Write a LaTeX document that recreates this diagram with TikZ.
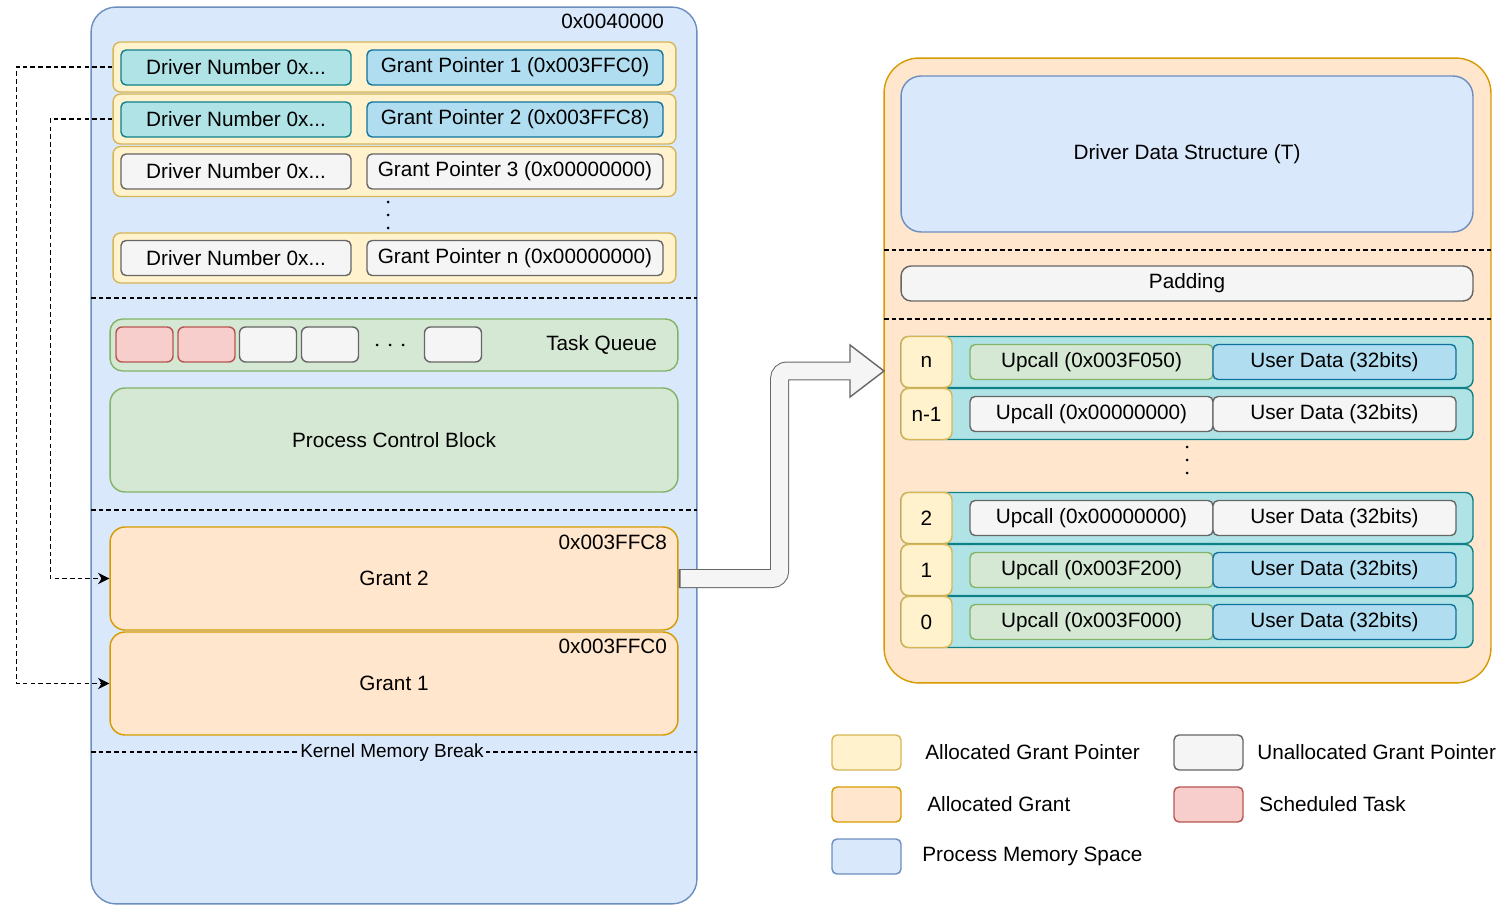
\documentclass[tikz,border=0pt]{standalone}
\usepackage{fontspec}
\setmainfont{Liberation Sans}
\usetikzlibrary{arrows.meta,positioning}

\definecolor{memfill}{HTML}{DAE8FC}
\definecolor{memline}{HTML}{6C8EBF}
\definecolor{ptrfill}{HTML}{FFF2CC}
\definecolor{ptrline}{HTML}{D6B656}
\definecolor{grfill}{HTML}{FFE6CC}
\definecolor{grline}{HTML}{D79B00}
\definecolor{tealfill}{HTML}{B0E3E6}
\definecolor{tealline}{HTML}{0E8088}
\definecolor{skyfill}{HTML}{B1DDF0}
\definecolor{skyline}{HTML}{10739E}
\definecolor{offfill}{HTML}{F5F5F5}
\definecolor{offline}{HTML}{666666}
\definecolor{pcbfill}{HTML}{D5E8D4}
\definecolor{pcbline}{HTML}{82B366}
\definecolor{taskfill}{HTML}{F8CECC}
\definecolor{taskline}{HTML}{B85450}

\begin{document}
\begin{tikzpicture}[x=0.02cm, y=-0.02cm, line width=0.8pt,
		font=\fontsize{11.8}{14}\selectfont,
		box/.style={draw, rounded corners=0.1cm, inner sep=0pt},
		mem/.style={box, fill=memfill, draw=memline},
		slot/.style={box, rounded corners=0.15cm, fill=ptrfill, draw=ptrline, minimum width=11.26cm, minimum height=1cm},
		drvused/.style={box, fill=tealfill, draw=tealline, minimum width=4.6cm, minimum height=0.7cm},
		drvfree/.style={drvused, fill=offfill, draw=offline},
		ptrused/.style={box, fill=skyfill, draw=skyline, minimum width=5.92cm, minimum height=0.7cm},
		ptrfree/.style={ptrused, fill=offfill, draw=offline},
		grant/.style={box, rounded corners=0.3cm, fill=grfill, draw=grline, minimum width=11.36cm, minimum height=2.06cm},
		task/.style={box, rounded corners=0.12cm, fill=taskfill, draw=taskline, minimum width=1.14cm, minimum height=0.7cm},
		idle/.style={task, fill=offfill, draw=offline},
		entry/.style={box, rounded corners=0.15cm, fill=tealfill, draw=tealline, minimum width=11.44cm, minimum height=1.02cm},
		idx/.style={box, rounded corners=0.15cm, fill=ptrfill, draw=ptrline, minimum width=1.02cm, minimum height=1.02cm},
		upused/.style={box, fill=pcbfill, draw=pcbline, minimum width=4.86cm, minimum height=0.7cm},
		upfree/.style={upused, fill=offfill, draw=offline},
		udused/.style={ptrused, minimum width=4.86cm},
		udfree/.style={udused, fill=offfill, draw=offline},
		addr/.style={anchor=east, inner sep=0pt},
		sep/.style={line width=0.6pt, dash pattern=on 2.6pt off 1.8pt},
		link/.style={sep, -{Stealth[length=6.5pt, width=6.5pt]}},
		key/.style={box, minimum width=1.38cm, minimum height=0.7cm}]
	\useasboundingbox (0,0) rectangle (1501,905);

	% process memory
	\node[mem, rounded corners=0.5cm, minimum width=12.12cm, minimum height=17.94cm] (proc) at (394,455.5) {};
	\node[addr] at ([xshift=-0.66cm, yshift=-0.3cm]proc.north east) {0x0040000};

	% grant pointer table
	\node[slot] (s1) at (394.5,67) {};
	\node[drvused] (d1) at (236,67.5) {Driver Number 0x...};
	\node[ptrused] (p1) at (515,67.5) {Grant Pointer 1 (0x003FFC0)};
	\node[slot] (s2) at (394.5,119) {};
	\node[drvused] (d2) at (236,119.5) {Driver Number 0x...};
	\node[ptrused] (p2) at (515,119.5) {Grant Pointer 2 (0x003FFC8)};
	\node[slot] (s3) at (394.5,171.5) {};
	\node[drvfree] (d3) at (236,171.5) {Driver Number 0x...};
	\node[ptrfree] (p3) at (515,171.5) {Grant Pointer 3 (0x00000000)};
	\node[slot] (sn) at (394.5,258) {};
	\node[drvfree] (dn) at (236,258) {Driver Number 0x...};
	\node[ptrfree] (pn) at (515,258) {Grant Pointer n (0x00000000)};
	\foreach \y in {202,215,228}
		\fill (388,\y) circle (0.03cm);

	\draw[sep] (91,298) -- (697,298);

	% task queue and PCB
	\node[box, rounded corners=0.25cm, fill=pcbfill, draw=pcbline, minimum width=11.36cm, minimum height=1.04cm] (tq) at (394,345) {};
	\node[addr] at ([xshift=-0.42cm]tq.east) {Task Queue};
	\node[task] (t1) at (144.5,344.5) {};
	\node[task] (t2) at (206.5,344.5) {};
	\node[idle] (t3) at (268,344.5) {};
	\node[idle] (t4) at (330,344.5) {};
	\node[idle] (t5) at (453,344.5) {};
	\foreach \x in {377,390,403}
		\fill (\x,345) circle (0.03cm);
	\node[box, rounded corners=0.3cm, fill=pcbfill, draw=pcbline, minimum width=11.36cm, minimum height=2.08cm] (pcb) at (394,440) {Process Control Block};

	\draw[sep] (91,510) -- (697,510);

	% grant region
	\node[grant] (g2) at (394,578.5) {Grant 2};
	\node[addr] at ([xshift=-0.22cm, yshift=-0.32cm]g2.north east) {0x003FFC8};
	\node[grant] (g1) at (394,683.5) {Grant 1};
	\node[addr] at ([xshift=-0.22cm, yshift=-0.3cm]g1.north east) {0x003FFC0};

	\draw[sep] (91,752) -- (697,752);
	\node[fill=memfill, inner sep=1pt, font=\fontsize{10.8}{13}\selectfont] (kbrk) at (392,753) {Kernel Memory Break};

	\draw[link] (s1.west) -- ++(-96,0) |- (g1.west);
	\draw[link] (s2.west) -- ++(-62,0) |- (g2.west);

	% grant layout
	\node[box, rounded corners=0.7cm, fill=grfill, draw=grline, minimum width=12.14cm, minimum height=12.5cm] (heap) at (1187.5,370.5) {};
	\node[mem, rounded corners=0.4cm, minimum width=11.44cm, minimum height=3.12cm] (dds) at (1187,154) {Driver Data Structure (T)};
	\draw[sep] (884,250) -- (1491,250);
	\node[box, rounded corners=0.2cm, fill=offfill, draw=offline, minimum width=11.44cm, minimum height=0.7cm] (pad) at (1187,283.5) {Padding};
	\draw[sep] (884,319) -- (1491,319);

	\foreach \i/\k/\y/\us/\ds/\a in {1/n/362/upused/udused/0x003F050, 2/n-1/414/upfree/udfree/0x00000000,
			3/2/518/upfree/udfree/0x00000000, 4/1/570/upused/udused/0x003F200, 5/0/622/upused/udused/0x003F000} {
		\node[entry] (e\i) at (1187,\y) {};
		\node[idx] (k\i) at (926.5,\y) {\k};
		\node[\us] (u\i) at (1091.5,\y) {Upcall (\a)};
		\node[\ds] (v\i) at (1334.5,\y) {User Data (32bits)};
	}
	\foreach \y in {447,460,473}
		\fill (1187,\y) circle (0.03cm);

	% flat arrow from grant 2
	\coordinate (tip) at (884,371);
	\draw[offline, line width=0.38cm, rounded corners=0.15cm] (g2.east) -- ++(101,0) |- ([xshift=-0.68cm]tip);
	\filldraw[fill=offfill, draw=offline] ([shift={(-0.68cm,0.52cm)}]tip) -- (tip) -- ([shift={(-0.68cm,-0.52cm)}]tip) -- cycle;
	\draw[offfill, line width=0.34cm, rounded corners=0.15cm] ([xshift=0.04cm]g2.east) -- ++(99,0) |- ([xshift=-0.66cm]tip);

	% legend
	\node[key, fill=ptrfill, draw=ptrline] (l1) at (866.5,752.5) {};
	\node[right=0.46cm of l1, inner sep=0pt] {Allocated Grant Pointer};
	\node[key, fill=grfill, draw=grline] (l2) at (866.5,804.5) {};
	\node[right=0.5cm of l2, inner sep=0pt] {Allocated Grant};
	\node[key, fill=memfill, draw=memline] (l3) at (866.5,856.5) {};
	\node[right=0.4cm of l3, inner sep=0pt] {Process Memory Space};
	\node[key, fill=offfill, draw=offline] (l4) at (1208.5,752.5) {};
	\node[right=0.26cm of l4, inner sep=0pt] {Unallocated Grant Pointer};
	\node[key, fill=taskfill, draw=taskline] (l5) at (1208.5,804.5) {};
	\node[right=0.3cm of l5, inner sep=0pt] {Scheduled Task};
\end{tikzpicture}
\end{document}
